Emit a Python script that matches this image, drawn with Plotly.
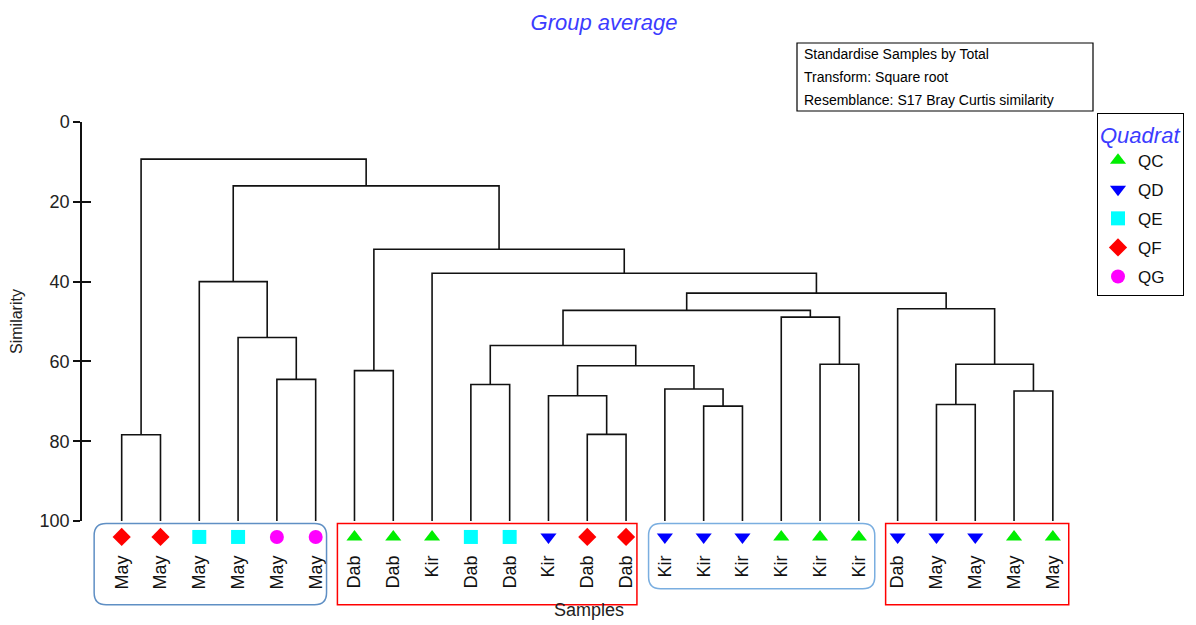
import plotly.graph_objects as go

# ---------------- data ----------------
leaf_labels = ["May", "May", "May", "May", "May", "May",
               "Dab", "Dab", "Kir", "Dab", "Dab", "Kir", "Dab", "Dab",
               "Kir", "Kir", "Kir", "Kir", "Kir", "Kir",
               "Dab", "May", "May", "May", "May"]
leaf_quadrat = ["QF", "QF", "QE", "QE", "QG", "QG",
                "QC", "QC", "QC", "QE", "QE", "QD", "QF", "QF",
                "QD", "QD", "QD", "QC", "QC", "QC",
                "QD", "QD", "QD", "QC", "QC"]
# merges: (child_a, child_b, similarity); ids >= 25 refer to earlier merges
merge_a = [0, 4, 3, 2, 6, 9, 12, 11, 15, 14, 32, 30, 18, 17, 36, 21, 23, 40, 20, 39, 8, 29, 28, 25]
merge_b = [1, 5, 26, 27, 7, 10, 13, 31, 16, 33, 34, 35, 19, 37, 38, 22, 24, 41, 42, 43, 44, 45, 46, 47]
merge_sim = [78.4, 64.5, 54.0, 40.0, 62.3, 65.8, 78.3, 68.6, 71.2, 66.9, 61.1, 56.0,
             60.7, 48.9, 47.2, 70.8, 67.4, 60.7, 46.8, 42.9, 37.9, 31.9, 16.0, 9.3]
quadrats = ["QC", "QD", "QE", "QF", "QG"]
sim_ticks = [0, 20, 40, 60, 80, 100]
# groups of samples: (first leaf, last leaf)
group_first = [0, 6, 14, 20]
group_last = [5, 13, 19, 24]

# ---------------- styling ----------------
FONT = "Liberation Sans, Arial, sans-serif"
BLUE_TXT = "rgb(60,60,255)"
q_symbol = {"QC": "triangle-up", "QD": "triangle-down", "QE": "square",
            "QF": "diamond", "QG": "circle"}
q_color = {"QC": "#00ee00", "QD": "#0000ff", "QE": "#00ffff",
           "QF": "#ff0000", "QG": "#ff00ff"}
group_style = [dict(kind="round", color="#5f8fc4", pl=0.71, pr=0.28, bottom=121.0),
               dict(kind="rect", color="#ff0000", pl=0.44, pr=0.28, bottom=121.0),
               dict(kind="round", color="#7aaee0", pl=0.42, pr=0.41, bottom=117.0),
               dict(kind="rect", color="#ff0000", pl=0.31, pr=0.41, bottom=121.0)]

OFF = 8                     # page body margin of the html page
W, H = 1196 - OFF, 625 - OFF
# plot area in reference-picture pixels
PL, PR, PT, PB = 82, 1080, 122, 612
YMAIN_B = 521               # pixel of similarity 100
XR = [-1.023, 24.70]
YR = [100, 0]
PX_PER_UNIT = (YMAIN_B - PT) / 100.0
Y3R = [(PB - PT) / PX_PER_UNIT, 0]
MARK_Y = 104.0


def paper_x_from_px(p):
    return (p - PL) / (PR - PL)


def paper_y_from_px(p):
    return (PB - p) / (PB - PT)


def paper_x_from_data(v):
    return (v - XR[0]) / (XR[1] - XR[0])


def paper_y_from_data(v):
    return paper_y_from_px(PT + v * PX_PER_UNIT)


# ---------------- dendrogram geometry ----------------
n = len(leaf_labels)
node_x = {i: float(i) for i in range(n)}
node_h = {i: 100.0 for i in range(n)}
lx, ly = [], []
for k, (a, b, s) in enumerate(zip(merge_a, merge_b, merge_sim)):
    xa, xb = node_x[a], node_x[b]
    lx += [xa, xa, xb, xb, None]
    ly += [node_h[a], s, s, node_h[b], None]
    node_x[n + k] = (xa + xb) / 2
    node_h[n + k] = s

fig = go.Figure()
fig.add_trace(go.Scatter(x=lx, y=ly, mode="lines", line=dict(color="#111", width=1.6),
                         showlegend=False, hoverinfo="skip", cliponaxis=False))

for q in quadrats:
    idx = [i for i, qq in enumerate(leaf_quadrat) if qq == q]
    fig.add_trace(go.Scatter(
        x=idx, y=[MARK_Y] * len(idx), mode="markers", name=q, legendgroup=q,
        yaxis="y3",
        marker=dict(symbol=q_symbol[q], color=q_color[q], size=14, line=dict(width=0)),
        cliponaxis=False))

# dummy trace for overlay axis (inside tick stubs)
fig.add_trace(go.Scatter(x=[None], y=[None], yaxis="y2", showlegend=False, hoverinfo="skip"))

# ---------------- group boxes ----------------
shapes = []
for f, l, st in zip(group_first, group_last, group_style):
    x0 = paper_x_from_data(f - st["pl"])
    x1 = paper_x_from_data(l + st["pr"])
    y0 = paper_y_from_data(100.6)
    y1 = paper_y_from_data(st["bottom"])
    if st["kind"] == "rect":
        shapes.append(dict(type="rect", xref="paper", yref="paper", x0=x0, x1=x1, y0=y0, y1=y1,
                           line=dict(color=st["color"], width=1.5)))
    else:
        rx = 12 / (PR - PL)
        ry = 12 / (PB - PT)
        path = (f"M {x0+rx},{y0} L {x1-rx},{y0} Q {x1},{y0} {x1},{y0-ry} "
                f"L {x1},{y1+ry} Q {x1},{y1} {x1-rx},{y1} L {x0+rx},{y1} "
                f"Q {x0},{y1} {x0},{y1+ry} L {x0},{y0-ry} Q {x0},{y0} {x0+rx},{y0} Z")
        shapes.append(dict(type="path", xref="paper", yref="paper", path=path,
                           line=dict(color=st["color"], width=1.5)))

# info box
shapes.append(dict(type="rect", xref="paper", yref="paper",
                   x0=paper_x_from_px(797), x1=paper_x_from_px(1093),
                   y0=paper_y_from_px(43), y1=paper_y_from_px(111),
                   line=dict(color="black", width=1.2), fillcolor="white"))

info_lines = ["Standardise Samples by Total", "Transform: Square root",
              "Resemblance: S17 Bray Curtis similarity"]
annotations = []
for i, t in enumerate(info_lines):
    annotations.append(dict(text=t, xref="paper", yref="paper",
                            x=paper_x_from_px(802), y=paper_y_from_px(54 + 23 * i),
                            xanchor="left", yanchor="middle", showarrow=False,
                            font=dict(family=FONT, size=14, color="black")))
annotations.append(dict(text="Samples", xref="paper", yref="paper",
                        x=paper_x_from_px(589), y=paper_y_from_px(610),
                        xanchor="center", yanchor="middle", showarrow=False,
                        font=dict(family=FONT, size=18, color="#222")))

fig.update_layout(
    width=W, height=H,
    margin=dict(l=PL - OFF, r=W - (PR - OFF), t=PT - OFF, b=H - (PB - OFF), autoexpand=False),
    paper_bgcolor="white", plot_bgcolor="rgba(0,0,0,0)",
    title=dict(text="Group average", x=(604 - OFF) / W, xref="container", xanchor="center",
               y=1 - (22 - OFF) / H, yref="container", yanchor="middle",
               font=dict(family=FONT, size=22, color=BLUE_TXT, style="italic")),
    xaxis=dict(range=XR, anchor="y", showgrid=False, zeroline=False, showline=False, ticks="",
               tickmode="array", tickvals=list(range(n)), ticktext=leaf_labels,
               tickangle=-90, ticklabelstandoff=30,
               tickfont=dict(family=FONT, size=18, color="#111")),
    yaxis=dict(range=YR, domain=[paper_y_from_px(YMAIN_B), 1], anchor="x",
               showgrid=False, zeroline=False, showline=True,
               linecolor="#111", linewidth=1.5, ticks="outside", ticklen=7,
               tickwidth=1.5, tickcolor="#111", tickmode="array", tickvals=sim_ticks,
               tickfont=dict(family=FONT, size=18, color="#222"),
               title=dict(text="Similarity", standoff=14,
                          font=dict(family=FONT, size=16, color="#222"))),
    yaxis2=dict(range=YR, overlaying="y", anchor="x", side="left", showgrid=False,
                zeroline=False, showline=False, ticks="inside", ticklen=9,
                tickwidth=1.5, tickcolor="#111", tickmode="array", tickvals=sim_ticks,
                showticklabels=False),
    yaxis3=dict(range=Y3R, domain=[0, 1], anchor="x", visible=False, showgrid=False,
                zeroline=False),
    legend=dict(x=paper_x_from_px(1097), y=paper_y_from_px(113), xanchor="left", yanchor="top",
                bgcolor="white", bordercolor="black", borderwidth=1,
                font=dict(family=FONT, size=17, color="#111"), tracegroupgap=4,
                title=dict(text="Quadrat", font=dict(family=FONT, size=22, color=BLUE_TXT,
                                                     style="italic"))),
    shapes=shapes, annotations=annotations,
)

fig.write_html("out.html")
